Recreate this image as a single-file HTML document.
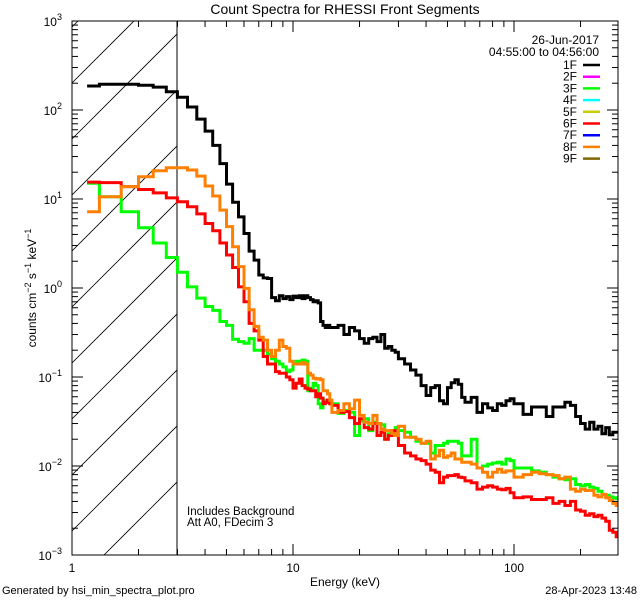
<!DOCTYPE html>
<html><head><meta charset="utf-8"><style>
html,body{margin:0;padding:0;width:640px;height:600px;overflow:hidden;background:#fff;}
svg{display:block;font-family:"Liberation Sans",sans-serif;overflow:hidden;}
</style></head><body>
<svg id="chart" width="640" height="600" viewBox="0 0 640 600">
<rect width="640" height="600" fill="#fff"/>
<defs><clipPath id="plotclip"><rect x="72" y="21" width="546" height="534"/></clipPath>
<clipPath id="hatchclip"><rect x="72" y="21" width="105" height="534"/></clipPath></defs>
<text x="345" y="14" text-anchor="middle" font-size="14">Count Spectra for RHESSI Front Segments</text>
<g id="hatch" clip-path="url(#hatchclip)"></g>
<line x1="177" y1="21" x2="177" y2="555" stroke="#000" stroke-width="1"/>
<g id="series" clip-path="url(#plotclip)"></g>
<rect x="72" y="21" width="546" height="534" fill="none" stroke="#000" stroke-width="1"/>
<g id="axes"></g>
<text x="345" y="586" text-anchor="middle" font-size="12">Energy (keV)</text>
<text transform="translate(36,288) rotate(-90)" text-anchor="middle" font-size="12">counts cm<tspan dy="-5" font-size="9">−2</tspan><tspan dy="5"> s</tspan><tspan dy="-5" font-size="9">−1</tspan><tspan dy="5"> keV</tspan><tspan dy="-5" font-size="9">−1</tspan></text>
<text x="187" y="515" font-size="11.5">Includes Background</text>
<text x="187" y="526" font-size="11.5">Att A0, FDecim 3</text>
<text x="2" y="594" font-size="11">Generated by hsi_min_spectra_plot.pro</text>
<text x="637" y="594" text-anchor="end" font-size="11">28-Apr-2023 13:48</text>
<text x="599" y="44" text-anchor="end" font-size="12">26-Jun-2017</text>
<text x="599" y="56" text-anchor="end" font-size="12">04:55:00 to 04:56:00</text>
<g id="legend"></g>
</svg>
<script>
const binEdges=[1.17,1.33,1.67,2,2.33,2.67,3,3.33,3.67,4,4.33,4.67,5,5.33,5.67,6,6.33,6.67,7,7.33,7.67,8,8.33,8.67,9,9.33,9.67,10,10.33,10.67,11,11.33,11.67,12,12.33,12.67,13,13.33,13.67,14,14.33,14.67,15,
16,17,18,19,20,21,22,23,24,25,26,27,28,29,30,
32,34,36,38,40,42,44,46,48,50,52,54,56,58,60,
64,68,72,76,80,84,88,92,96,100,
110,120,130,140,150,160,170,180,190,200,210,220,230,240,250,260,270,280,290,300];
const seg1F=[186,195,195,190,181,160,139,108,79,58,40,25,14.7,9.2,6.3,4.1,2.6,2.06,1.4,1.3,1.28,
0.78,0.72,0.82,0.76,0.80,0.74,0.81,0.78,0.82,0.76,0.82,0.78,0.74,0.70,0.72,0.68,0.42,0.38,0.36,0.38,0.36,
0.36,0.38,0.30,0.36,0.33,0.27,0.24,0.27,0.28,0.25,0.30,0.21,0.22,0.20,0.19,
0.16,0.14,0.12,0.105,0.08,0.062,0.076,0.08,0.054,0.05,0.076,0.086,0.093,0.083,0.059,
0.052,0.059,0.04,0.05,0.045,0.042,0.05,0.048,0.054,0.057,
0.05,0.038,0.046,0.046,0.036,0.046,0.046,0.052,0.048,0.036,0.03,0.026,0.031,0.026,0.028,0.023,0.027,0.0225,0.024,0.024];
const seg3F=[15,10.6,7.2,4.75,3.2,2.2,1.5,1.03,0.77,0.62,0.56,0.42,0.38,0.265,0.25,0.24,0.27,0.20,0.20,0.20,0.18,
0.16,0.15,0.14,0.13,0.115,0.12,0.14,0.15,0.15,0.155,0.15,0.07,0.075,0.085,0.08,0.05,0.045,0.055,0.052,0.055,0.05,
0.05,0.039,0.042,0.04,0.022,0.032,0.034,0.025,0.031,0.030,0.029,0.02,0.023,0.025,0.027,
0.025,0.024,0.021,0.019,0.018,0.018,0.014,0.017,0.017,0.018,0.019,0.019,0.019,0.018,0.013,
0.013,0.02,0.0095,0.01,0.0105,0.0108,0.011,0.0105,0.012,0.0115,
0.0095,0.0095,0.0088,0.0085,0.008,0.0075,0.0072,0.007,0.0072,0.0062,0.006,0.0062,0.0058,0.0056,0.0052,0.0048,0.0047,0.0045,0.0044,0.0043];
const seg6F=[15.5,15.3,13.8,12.8,11.7,10.3,9.3,8.2,6.8,5.3,4.4,3.2,2.35,1.7,1.03,0.70,0.40,0.33,0.26,0.17,0.14,
0.14,0.115,0.11,0.11,0.1,0.093,0.075,0.085,0.095,0.08,0.075,0.073,0.07,0.07,0.06,0.065,0.058,0.05,0.052,0.055,0.05,
0.048,0.04,0.041,0.035,0.03,0.034,0.027,0.026,0.03,0.022,0.024,0.02,0.022,0.025,0.022,
0.017,0.014,0.013,0.012,0.0115,0.0105,0.009,0.0085,0.0065,0.0075,0.0078,0.0078,0.008,0.0075,0.0074,
0.0068,0.0065,0.0055,0.0058,0.006,0.0058,0.0055,0.0054,0.0056,0.005,
0.0044,0.0045,0.0042,0.0042,0.0044,0.0038,0.004,0.0036,0.004,0.0032,0.0031,0.0028,0.0029,0.0027,0.0028,0.0026,0.0024,0.0019,0.0018,0.0016];
const seg8F=[7.2,10.6,13.8,17.8,20.8,22.5,22.5,21.2,18.1,14,10.8,7.5,4.9,2.9,1.74,0.99,0.57,0.37,0.28,0.26,0.2,
0.17,0.2,0.26,0.22,0.21,0.15,0.14,0.14,0.14,0.145,0.14,0.11,0.105,0.097,0.095,0.096,0.093,0.07,0.07,0.065,0.055,
0.04,0.042,0.05,0.044,0.055,0.037,0.031,0.03,0.037,0.03,0.026,0.025,0.025,0.023,0.022,
0.028,0.021,0.021,0.02,0.018,0.019,0.012,0.013,0.015,0.0125,0.013,0.014,0.012,0.012,0.011,
0.011,0.0105,0.0095,0.0085,0.0075,0.0085,0.0092,0.0085,0.0088,0.0088,
0.0075,0.008,0.0085,0.0082,0.008,0.0078,0.0072,0.0075,0.0055,0.0052,0.0055,0.0053,0.0053,0.0047,0.0045,0.0048,0.0044,0.0041,0.0038,0.0036];
const legendLabels=["1F","2F","3F","4F","5F","6F","7F","8F","9F"];
const legendColors=["#000000","#ff00ff","#00ff00","#00ffff","#cccc00","#ff0000","#0000ff","#ff8000","#806600"];
const xTickMajor=[1,10,100];
const xTickLabels=["1","10","100"];
const yTickExp=[-3,-2,-1,0,1,2,3];

const NS="http://www.w3.org/2000/svg";
const X0=72,X1=618,Y0=555,Y1=21;
const XMIN=1,XMAX=Math.pow(10,(X1-X0)/221);
function xs(e){return X0+(Math.log10(e)-Math.log10(XMIN))/(Math.log10(XMAX)-Math.log10(XMIN))*(X1-X0);}
function ys(v){return Y0-(Math.log10(v)+3)/6*(Y0-Y1);}
function mk(tag,attrs,parent){const el=document.createElementNS(NS,tag);for(const k in attrs)el.setAttribute(k,attrs[k]);parent.appendChild(el);return el;}

const hatch=document.getElementById('hatch');
for(let c=83-56;c<83+56*10;c+=56){
  const l=mk('line',{x1:72,y1:c,x2:72+600,y2:c-600,stroke:'#000','stroke-width':0.8},hatch);
  
  
}

const sg=document.getElementById('series');
function drawSeries(vals,color,name){
  let d='M'+xs(binEdges[0]).toFixed(1)+' '+ys(vals[0]).toFixed(1);
  for(let i=0;i<vals.length;i++){
    if(i>0)d+=' V'+ys(vals[i]).toFixed(1);
    d+=' H'+xs(binEdges[i+1]).toFixed(1);
  }
  const p=mk('path',{d:d,fill:'none',stroke:color,'stroke-width':3,'stroke-linejoin':'miter'},sg);
  
  
}
drawSeries(seg3F,'#00ff00','series-3f');
drawSeries(seg6F,'#ff0000','series-6f');
drawSeries(seg8F,'#ff8000','series-8f');
drawSeries(seg1F,'#000000','series-1f');

const ax=document.getElementById('axes');
for(let dec=0;dec<3;dec++){
  for(let m=1;m<10;m++){
    const e=Math.pow(10,dec)*m; if(e>XMAX)break;
    const x=xs(e), len=m===1?11:6;
    const t1=mk('line',{x1:x,y1:Y0,x2:x,y2:Y0-len,stroke:'#000'},ax);
    
    
    const t2=mk('line',{x1:x,y1:Y1,x2:x,y2:Y1+len,stroke:'#000'},ax);
    
    
  }
}
xTickMajor.forEach((e,i)=>{
  const t=mk('text',{x:xs(e),y:572,'text-anchor':'middle','font-size':12},ax);
  t.textContent=xTickLabels[i];
  
  
});
for(let ex=-3;ex<3;ex++){
  for(let m=1;m<10;m++){
    const v=Math.pow(10,ex)*m, y=ys(v), len=m===1?11:6;
    const t1=mk('line',{x1:X0,y1:y,x2:X0+len,y2:y,stroke:'#000'},ax);
    
    
    const t2=mk('line',{x1:X1,y1:y,x2:X1-len,y2:y,stroke:'#000'},ax);
    
    
  }
}
yTickExp.forEach(ex=>{
  const y=ys(Math.pow(10,ex));
  const t=mk('text',{x:62,y:y+5,'text-anchor':'end','font-size':12},ax);
  t.innerHTML='10<tspan dy="-6" font-size="9">'+(ex<0?'−'+(-ex):ex)+'</tspan>';
  
  
});

const lg=document.getElementById('legend');
legendLabels.forEach((lab,i)=>{
  const y=65+i*11.7;
  const t=mk('text',{x:577,y:y+4,'text-anchor':'end','font-size':12},lg);
  t.textContent=lab;
  
  
  const l=mk('line',{x1:583,y1:y,x2:600,y2:y,stroke:legendColors[i],'stroke-width':2.5},lg);
  
  
});
</script>
</body></html>
